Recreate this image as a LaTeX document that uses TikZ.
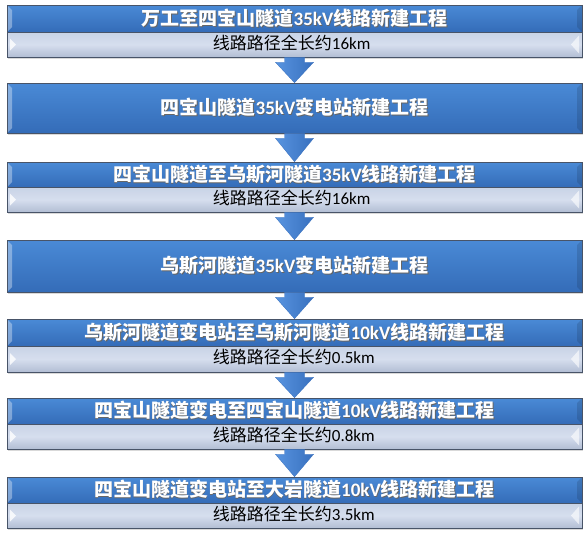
\documentclass[tikz,border=0pt]{standalone}
\usepackage{fontspec}
\setmainfont{Noto Sans CJK SC}
\newfontfamily\latfont{Carlito}
\usetikzlibrary{calc,shadows}

\definecolor{bluetop}{RGB}{74,138,214}
\definecolor{bluebot}{RGB}{52,108,184}
\definecolor{grayhi}{RGB}{214,222,238}
\definecolor{graytop}{RGB}{200,211,230}
\definecolor{graybot}{RGB}{178,190,212}
\definecolor{edgeline}{RGB}{72,84,104}
\definecolor{arrowleft}{RGB}{88,148,224}
\definecolor{arrowmid}{RGB}{176,212,250}
\definecolor{arrowright}{RGB}{56,112,190}

% white title text with a little dark shadow
\newcommand\shtext[1]{\rlap{\hspace{0.8pt}\raisebox{-0.8pt}{\color{black!60}#1}}#1}
\newcommand\kv[1]{{\latfont\bfseries #1}}
\newcommand\km[1]{{\latfont #1}}
% block arrow from one box down to the next
\newcommand\linkarrow[2]{%
  \path[linkfill] let \p1=(#1.south), \p2=(#2.north) in
    (\x1-10pt,\y1) -- (\x1+10pt,\y1) -- (\x1+10pt,\y1-5pt) -- (\x1+19pt,\y1-5pt)
    -- (\x1,\y2) -- (\x1-19pt,\y1-5pt) -- (\x1-10pt,\y1-5pt) -- cycle;}

\begin{document}
\begin{tikzpicture}[x=1pt,y=-1pt,
    bar/.style={draw=edgeline, line width=0.6pt, minimum width=575pt, inner sep=0pt,
      drop shadow={opacity=0.3, shadow xshift=0.8pt, shadow yshift=-1.6pt}},
    titlebar/.style={bar, top color=bluetop, bottom color=bluebot, text=white,
      font=\bfseries\fontsize{19}{19}\selectfont,
      path picture={
        \fill[white, opacity=0.35] (path picture bounding box.north west)
          -- ++(5pt,-5pt) -- ($(path picture bounding box.south west)+(5pt,5pt)$)
          -- (path picture bounding box.south west) -- cycle;
        \fill[black, opacity=0.12] (path picture bounding box.north east)
          -- ++(-5pt,-5pt) -- ($(path picture bounding box.south east)+(-5pt,5pt)$)
          -- (path picture bounding box.south east) -- cycle;}},
    subbar/.style={bar, top color=graytop, bottom color=graybot, middle color=grayhi,
      path picture={
        \fill[white, opacity=0.8] ($(path picture bounding box.west)+(3pt,6pt)$)
          -- ++(6pt,-6pt) -- ++(-6pt,-6pt) -- cycle;
        \fill[white, opacity=0.6] ($(path picture bounding box.east)+(-3pt,9pt)$)
          -- ++(-8pt,-9pt) -- ++(8pt,-9pt) -- cycle;}},
    subtext/.style={anchor=west, inner sep=0pt, text=black, font=\fontsize{17}{17}\selectfont},
    linkfill/.style={draw=arrowright, line width=0.3pt, left color=arrowleft,
      middle color=arrowmid, right color=arrowright}]
  \useasboundingbox (0,0) rectangle (588,536);

  % boxes
  \node[titlebar, minimum height=27pt] (t1) at (294.5,18.5) {\shtext{万工至四宝山隧道\kv{35kV}线路新建工程}};
  \node[subbar, minimum height=25pt] (s1) at (294.5,44.5) {};
  \node[subtext] (l1) at ($(s1.west)+(206pt,2pt)$) {线路路径全长约\km{16km}};

  \node[titlebar, minimum height=50pt] (t2) at (294.5,108) {\shtext{四宝山隧道\kv{35kV}变电站新建工程}};

  \node[titlebar, minimum height=25pt] (t3) at (294.5,174.5) {\shtext{四宝山隧道至乌斯河隧道\kv{35kV}线路新建工程}};
  \node[subbar, minimum height=25pt] (s3) at (294.5,199.5) {};
  \node[subtext] (l3) at ($(s3.west)+(206pt,2pt)$) {线路路径全长约\km{16km}};

  \node[titlebar, minimum height=52pt] (t4) at (294.5,266) {\shtext{乌斯河隧道\kv{35kV}变电站新建工程}};

  \node[titlebar, minimum height=27pt] (t5) at (294.5,332.5) {\shtext{乌斯河隧道变电站至乌斯河隧道\kv{10kV}线路新建工程}};
  \node[subbar, minimum height=26pt] (s5) at (294.5,359) {};
  \node[subtext] (l5) at ($(s5.west)+(206pt,2pt)$) {线路路径全长约\km{0.5km}};

  \node[titlebar, minimum height=26pt] (t6) at (294.5,411) {\shtext{四宝山隧道变电至四宝山隧道\kv{10kV}线路新建工程}};
  \node[subbar, minimum height=25pt] (s6) at (294.5,436.5) {};
  \node[subtext] (l6) at ($(s6.west)+(206pt,2pt)$) {线路路径全长约\km{0.8km}};

  \node[titlebar, minimum height=26pt] (t7) at (294.5,490) {\shtext{四宝山隧道变电站至大岩隧道\kv{10kV}线路新建工程}};
  \node[subbar, minimum height=25pt] (s7) at (294.5,515.5) {};
  \node[subtext] (l7) at ($(s7.west)+(206pt,2pt)$) {线路路径全长约\km{3.5km}};

  % arrows
  \linkarrow{s1}{t2}
  \linkarrow{t2}{t3}
  \linkarrow{s3}{t4}
  \linkarrow{t4}{t5}
  \linkarrow{s5}{t6}
  \linkarrow{s6}{t7}
\end{tikzpicture}
\end{document}
